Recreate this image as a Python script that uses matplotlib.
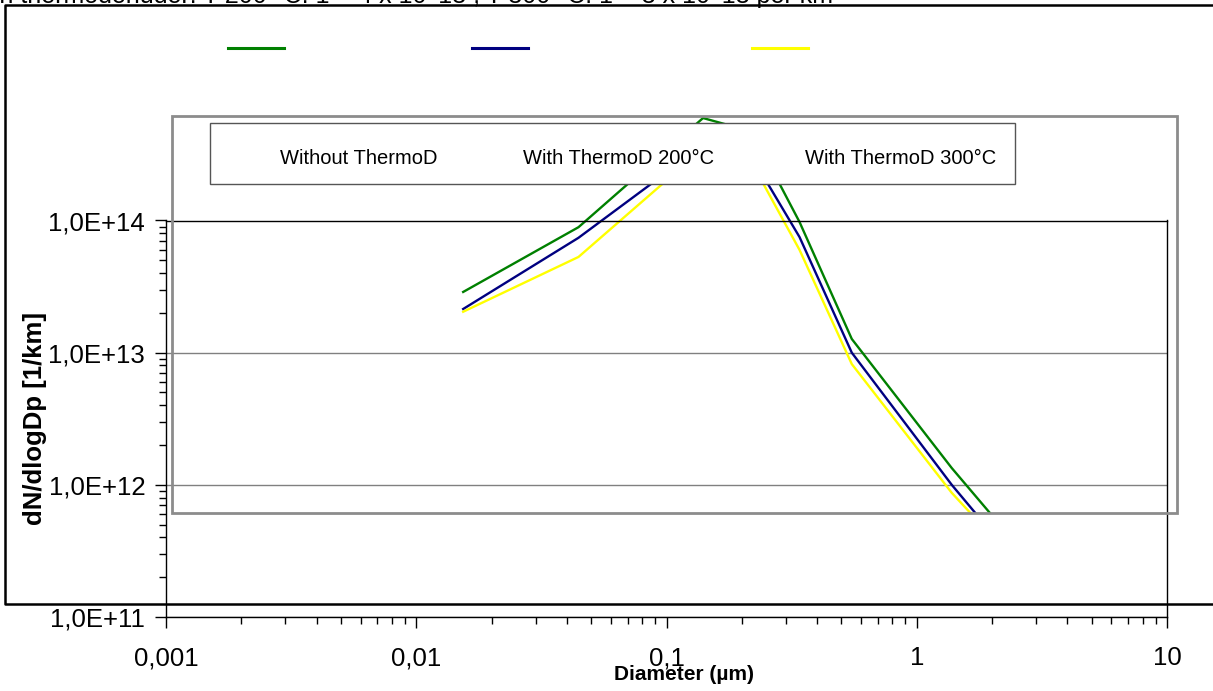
import matplotlib
matplotlib.use("Agg")
import matplotlib.pyplot as plt
from matplotlib.patches import Rectangle
from matplotlib.lines import Line2D
from matplotlib.ticker import FixedLocator, FixedFormatter, LogLocator, NullFormatter

plt.rcParams['font.family'] = ['Liberation Sans', 'DejaVu Sans']

# data
diam = [0.0154, 0.0445, 0.14, 0.22, 0.34, 0.55, 1.38, 2.4]
without_td = [2.88e13, 8.9e13, 5.96e14, 4.7e14, 9.75e13, 1.27e13, 1.34e12, 3.9e11]
td_200 = [2.14e13, 7.4e13, 3.7e14, 3.0e14, 7.5e13, 1.0e13, 1.0e12, 2.86e11]
td_300 = [2.04e13, 5.3e13, 3.5e14, 2.7e14, 6.0e13, 8.2e12, 8.7e11, 2.8e11]

series_names = ['Without ThermoD', 'With ThermoD 200°C', 'With ThermoD 300°C']
series_colors = ['#008000', '#000080', '#FFFF00']

x_ticks = [0.001, 0.01, 0.1, 1, 10]
x_labels = ['0,001', '0,01', '0,1', '1', '10']
y_ticks = [1e11, 1e12, 1e13, 1e14]
y_labels = ['1,0E+11', '1,0E+12', '1,0E+13', '1,0E+14']

title = 'with thermodenuder: T 200 °C: 1 = 4 x 10^13 , T 300 °C: 1 = 3 x 10^13 per km'

W, H = 1213, 691


def fx(x):
    return x / W


def fy(y):
    return 1 - y / H


fig = plt.figure(figsize=(W / 100, H / 100), dpi=100)

# plot area
ax_l, ax_b = fx(166), fy(617)
ax_w, ax_h = fx(1167) - fx(166), fy(220.5) - fy(617)
ax = fig.add_axes([ax_l, ax_b, ax_w, ax_h])
ax.set_xscale('log')
ax.set_yscale('log')
ax.set_xlim(1e-3, 10)
ax.set_ylim(1e11, 1e14)

ax.xaxis.set_major_locator(FixedLocator(x_ticks))
ax.xaxis.set_major_formatter(FixedFormatter(x_labels))
ax.yaxis.set_major_locator(FixedLocator(y_ticks))
ax.yaxis.set_major_formatter(FixedFormatter(y_labels))
ax.xaxis.set_minor_locator(LogLocator(base=10, subs=range(2, 10), numticks=20))
ax.yaxis.set_minor_locator(LogLocator(base=10, subs=range(2, 10), numticks=20))
ax.xaxis.set_minor_formatter(NullFormatter())
ax.yaxis.set_minor_formatter(NullFormatter())

ax.tick_params(which='major', direction='out', length=8, width=1, labelsize=18.5)
ax.tick_params(which='minor', direction='out', length=5, width=1)
ax.tick_params(axis='x', which='major', pad=13)
ax.tick_params(axis='y', which='major', pad=7)
ax.grid(axis='y', which='major', color='#808080', lw=1)
for s in ax.spines.values():
    s.set_color('black')
    s.set_linewidth(1)

ax.set_xlabel('Diameter (µm)', fontsize=15, fontweight='bold')
ax.xaxis.set_label_coords((fx(684) - ax_l) / ax_w, (fy(665) - ax_b) / ax_h)
ax.set_ylabel('dN/dlogDp [1/km]', fontsize=18.5, fontweight='bold')
ax.yaxis.set_label_coords((fx(47) - ax_l) / ax_w, (fy(418) - ax_b) / ax_h)

# lines are clipped by the grey frame, not by the plot area
clip_rect = Rectangle((fx(172), fy(513)), fx(1177) - fx(172), fy(116) - fy(513),
                      transform=fig.transFigure)
for vals, col in zip([without_td, td_200, td_300], series_colors):
    line, = ax.plot(diam, vals, color=col, lw=1.7)
    line.set_clip_path(clip_rect)

# grey frame
fig.add_artist(Rectangle((fx(172), fy(513)), fx(1177) - fx(172), fy(116) - fy(513),
                         transform=fig.transFigure, fill=False,
                         edgecolor='#8c8c8c', lw=2, zorder=3))

# legend box with labels
fig.add_artist(Rectangle((fx(210), fy(184)), fx(1015) - fx(210), fy(123) - fy(184),
                         transform=fig.transFigure, facecolor='white',
                         edgecolor='#555555', lw=1, zorder=4))
label_x = [280, 523, 805]
for name, lx in zip(series_names, label_x):
    fig.text(fx(lx), fy(158), name, fontsize=14.5, ha='left', va='center', zorder=5)

# legend samples at the top
sample_x = [(228, 284), (472, 528), (752, 808)]
for (x0, x1), col in zip(sample_x, series_colors):
    fig.add_artist(Line2D([fx(x0), fx(x1)], [fy(48), fy(48)], color=col, lw=2.2,
                          transform=fig.transFigure))

# outer frame, open to the right
fig.add_artist(Line2D([fx(W), fx(5), fx(5), fx(W)], [fy(5), fy(5), fy(604), fy(604)],
                      color='black', lw=1.8, transform=fig.transFigure))

# title, cut off by the top edge
fig.text(fx(833), fy(3), title, fontsize=18, ha='right', va='baseline')

fig.savefig('out.png', dpi=100)
